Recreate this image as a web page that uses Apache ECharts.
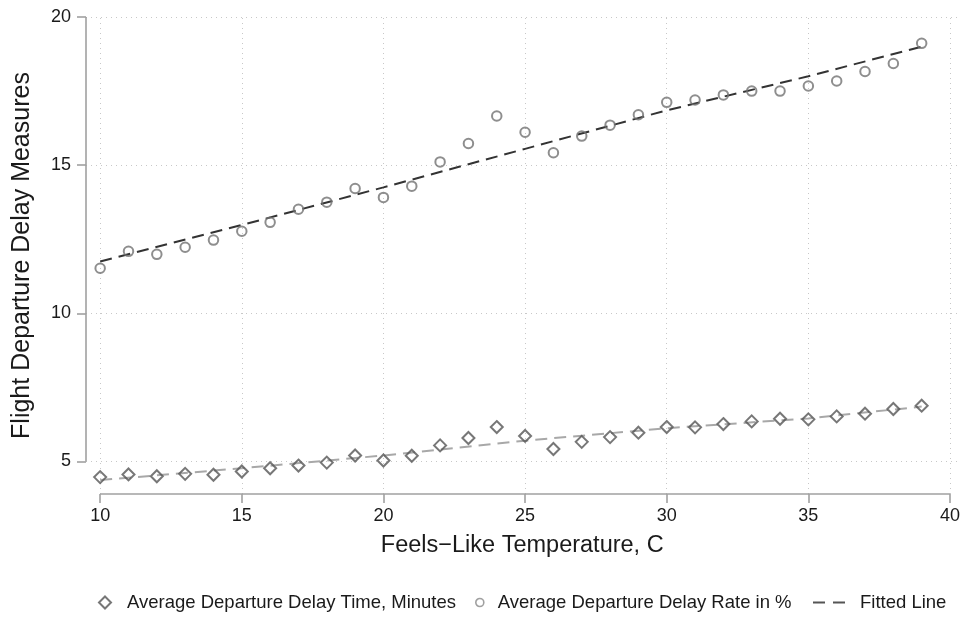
<!DOCTYPE html>
<html>
<head>
<meta charset="utf-8">
<script src="https://cdn.jsdelivr.net/npm/echarts@6/dist/echarts.min.js"></script>
<style>
html,body{margin:0;padding:0;background:#fff;}
#c{width:963px;height:617px;}
</style>
</head>
<body>
<div id="c"></div>
<script>
// ---- data ----
const temps = [10,11,12,13,14,15,16,17,18,19,20,21,22,23,24,25,26,27,28,29,30,31,32,33,34,35,36,37,38,39];
const delayTime = [4.47,4.56,4.50,4.58,4.55,4.66,4.77,4.86,4.96,5.20,5.03,5.19,5.54,5.79,6.16,5.86,5.42,5.66,5.82,5.97,6.16,6.15,6.26,6.35,6.44,6.42,6.52,6.61,6.77,6.88];
const delayRate = [11.52,12.09,11.99,12.23,12.47,12.77,13.07,13.51,13.75,14.21,13.91,14.29,15.11,15.73,16.66,16.11,15.42,15.98,16.35,16.70,17.12,17.20,17.37,17.50,17.50,17.67,17.84,18.16,18.43,19.11];
const fitX = [10,15,20,25,30,35,39];
const rateFit = [11.75,12.98,14.25,15.55,16.85,18.0,19.0];
const timeFit = [4.37,4.77,5.2,5.7,6.12,6.45,6.85];
const xTicks = [10,15,20,25,30,35,40];
const yTicks = [5,10,15,20];
const nameTime = 'Average Departure Delay Time, Minutes';
const nameRate = 'Average Departure Delay Rate in %';
const nameFit = 'Fitted Line';

const xMin = 9.5, xMax = 40.3, yMin = 3.9, yMax = 20;
const FONT = '"Liberation Sans", Arial, Helvetica, sans-serif';

const pairs = (xs, ys) => xs.map((x, i) => [x, ys[i]]);

const gridStyle = {color:'#c8c8c8', width:1, type:[1,4]};
const axisStyle = {color:'#a0a0a0', width:1.6, type:'solid'};

const markLines = [];
xTicks.forEach(v => markLines.push({xAxis: v, lineStyle: gridStyle}));
yTicks.forEach(v => markLines.push({yAxis: v, lineStyle: gridStyle}));
markLines.push([{coord:[xMin, yTicks[0]], lineStyle: axisStyle},{coord:[xMin, yTicks[yTicks.length-1]]}]);
markLines.push([{coord:[xTicks[0], yMin], lineStyle: axisStyle},{coord:[xTicks[xTicks.length-1], yMin]}]);

const chart = echarts.init(document.getElementById('c'));
const legendBase = {
  orient:'horizontal', itemGap: 0, padding:0, selectedMode:false, top:593,
  textStyle:{fontFamily:FONT, fontSize:18.5, color:'#1a1a1a'}
};
chart.setOption({
  animation:false,
  backgroundColor:'#fff',
  textStyle:{fontFamily:FONT},
  grid:{left:86, right:4.5, top:17, bottom:123, containLabel:false, outerBoundsMode:'none'},
  xAxis:{
    type:'value', min:xMin, max:xMax,
    name:'Feels\u2212Like Temperature, C', nameLocation:'middle', nameGap:40,
    nameTextStyle:{fontFamily:FONT, fontSize:23.5, color:'#1a1a1a'},
    axisLine:{show:false},
    axisTick:{show:true, customValues:xTicks, length:9, lineStyle:{color:'#a0a0a0', width:1.6}},
    axisLabel:{show:true, customValues:xTicks, margin:13, fontSize:18, color:'#1a1a1a', fontFamily:FONT},
    splitLine:{show:false}
  },
  yAxis:{
    type:'value', min:yMin, max:yMax,
    name:'Flight Departure Delay Measures', nameLocation:'middle', nameGap:51, nameRotate:90,
    nameTextStyle:{fontFamily:FONT, fontSize:25, color:'#1a1a1a'},
    axisLine:{show:false},
    axisTick:{show:true, customValues:yTicks, length:9, lineStyle:{color:'#a0a0a0', width:1.6}},
    axisLabel:{show:true, customValues:yTicks, margin:15, fontSize:18, color:'#1a1a1a', fontFamily:FONT},
    splitLine:{show:false}
  },
  legend:[
    Object.assign({}, legendBase, {left:98, itemWidth:12, itemHeight:12,
      data:[{name:nameTime, icon:'diamond', itemStyle:{color:'rgba(0,0,0,0)', borderColor:'#555', borderWidth:2},
        textStyle:{padding:[0,0,0,11]}}]}),
    Object.assign({}, legendBase, {left:475, itemWidth:8, itemHeight:8,
      data:[{name:nameRate, icon:'circle', itemStyle:{color:'rgba(0,0,0,0)', borderColor:'#888', borderWidth:1.6},
        textStyle:{padding:[0,0,0,9]}}]}),
    Object.assign({}, legendBase, {left:813, itemWidth:32, itemHeight:2,
      data:[{name:nameFit, icon:'path://M0,0h12v2h-12z M20,0h12v2h-12z',
        itemStyle:{color:'#555', borderWidth:0},
        textStyle:{padding:[0,0,0,10]}}]})
  ],
  series:[
    {
      name:nameTime, type:'scatter', z:4, clip:false,
      data:pairs(temps, delayTime),
      symbol:'diamond', symbolSize:12,
      itemStyle:{color:'rgba(255,255,255,0)', borderColor:'#555', borderWidth:2},
      markLine:{silent:true, symbol:'none', z:1, animation:false, label:{show:false}, data:markLines}
    },
    {
      name:nameRate, type:'scatter', z:4, clip:false,
      data:pairs(temps, delayRate),
      symbol:'circle', symbolSize:9.5,
      itemStyle:{color:'rgba(255,255,255,0)', borderColor:'#727272', borderWidth:2}
    },
    {
      name:nameFit, type:'line', z:3, clip:false, showSymbol:false, symbol:'none',
      data:pairs(fitX, rateFit),
      lineStyle:{color:'#333', width:2, type:[12,7]},
      itemStyle:{color:'#333'}
    },
    {
      name:nameFit, type:'line', z:3, clip:false, showSymbol:false, symbol:'none',
      data:pairs(fitX, timeFit),
      lineStyle:{color:'#a8a8a8', width:2, type:[12,7]},
      itemStyle:{color:'#a8a8a8'}
    }
  ]
});
</script>
</body>
</html>
